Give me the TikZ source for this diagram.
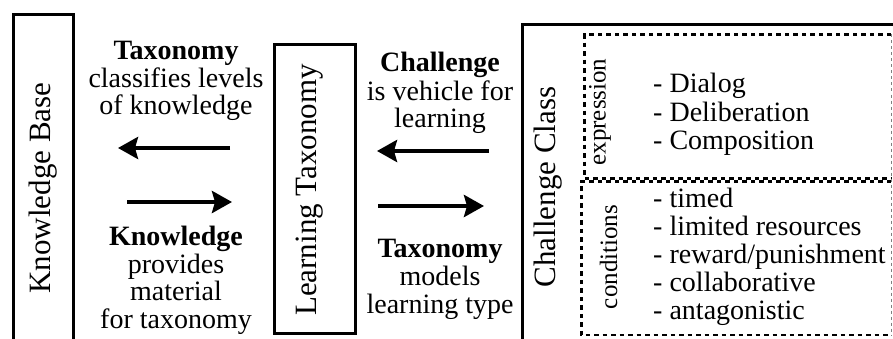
\documentclass[tikz,border=0pt]{standalone}
\usepackage{fontspec}
\setmainfont{Liberation Serif}
\usetikzlibrary{arrows.meta}
\tikzset{
  x=1pt,y=1pt,
  box/.style={draw,line width=3pt},
  big/.style={font=\fontsize{31}{31}\selectfont},
  mid/.style={font=\fontsize{28}{28}\selectfont, inner sep=0pt},
  midb/.style={font=\fontsize{28}{28}\selectfont\bfseries, inner sep=0pt},
  lab/.style={font=\fontsize{25}{25}\selectfont, inner sep=0pt, rotate=90, anchor=base},
  item/.style={font=\fontsize{28}{28}\selectfont, inner sep=0pt, anchor=base west},
  arr/.style={line width=4pt, -{Stealth[length=20pt,width=22pt,inset=3pt]}},
  dbox/.style={line width=2.5pt, dash pattern=on 4.5pt off 4pt},
}
\begin{document}
\begin{tikzpicture}
\useasboundingbox (0,0) rectangle (893,338);
\clip (0,0) rectangle (893,338);
% main boxes
\draw[box] (13.5,-20) rectangle (73.5,323);
\draw[box] (274,4.7) rectangle (355.7,293);
\draw[box] (522.7,-20) rectangle (920,313.7);
\node[big, rotate=90] (kb) at (43,150) {Knowledge Base};
\node[big, rotate=90] (lt) at (310,148) {Learning Taxonomy};
\node[big, rotate=90] (cc) at (548.5,151) {Challenge Class};
% dashed boxes
\draw[dbox] (891,303.5) -- (584.7,303.5) -- (584.7,159.5) -- (891,159.5);
\draw[dbox] (891,156.5) -- (581.3,156.5) -- (581.3,3) -- (891,3);
\draw[gray, line width=0.8pt, dashed] (891.5,303.5) -- (891.5,3);
\node[lab] (ex) at (605.6,226) {expression};
\node[lab] (co) at (617,81) {conditions};
% lists
\node[item] (i1) at (653,245) {- Dialog};
\node[item] (i2) at (653,217) {- Deliberation};
\node[item] (i3) at (653,189) {- Composition};
\node[item] (j1) at (653,131) {- timed};
\node[item] (j2) at (653,103) {- limited resources};
\node[item] (j3) at (653,75) {- reward/punishment};
\node[item] (j4) at (653,47) {- collaborative};
\node[item] (j5) at (653,19) {- antagonistic};
% left middle texts
\node[midb, anchor=base] (t1) at (176,278) {Taxonomy};
\node[mid, anchor=base] (t2) at (176,251) {classifies levels};
\node[mid, anchor=base] (t3) at (176,224) {of knowledge};
\node[midb, anchor=base] (k1) at (176,93) {Knowledge};
\node[mid, anchor=base] (k2) at (176,65) {provides};
\node[mid, anchor=base] (k3) at (176,38) {material};
\node[mid, anchor=base] (k4) at (176,10) {for taxonomy};
% right middle texts
\node[midb, anchor=base] (c1) at (440,266) {Challenge};
\node[mid, anchor=base] (c2) at (440,238) {is vehicle for};
\node[mid, anchor=base] (c3) at (440,211) {learning};
\node[midb, anchor=base] (m1) at (440,81) {Taxonomy};
\node[mid, anchor=base] (m2) at (440,53) {models};
\node[mid, anchor=base] (m3) at (440,25) {learning type};
% arrows
\coordinate (a1s) at (230,190); \coordinate (a1e) at (118,190);
\coordinate (a2s) at (127,136); \coordinate (a2e) at (232,136);
\coordinate (b1s) at (489,187); \coordinate (b1e) at (377,187);
\coordinate (b2s) at (378,132); \coordinate (b2e) at (484,132);
\draw[arr] (a1s) -- (a1e);
\draw[arr] (a2s) -- (a2e);
\draw[arr] (b1s) -- (b1e);
\draw[arr] (b2s) -- (b2e);
\end{tikzpicture}
\end{document}
